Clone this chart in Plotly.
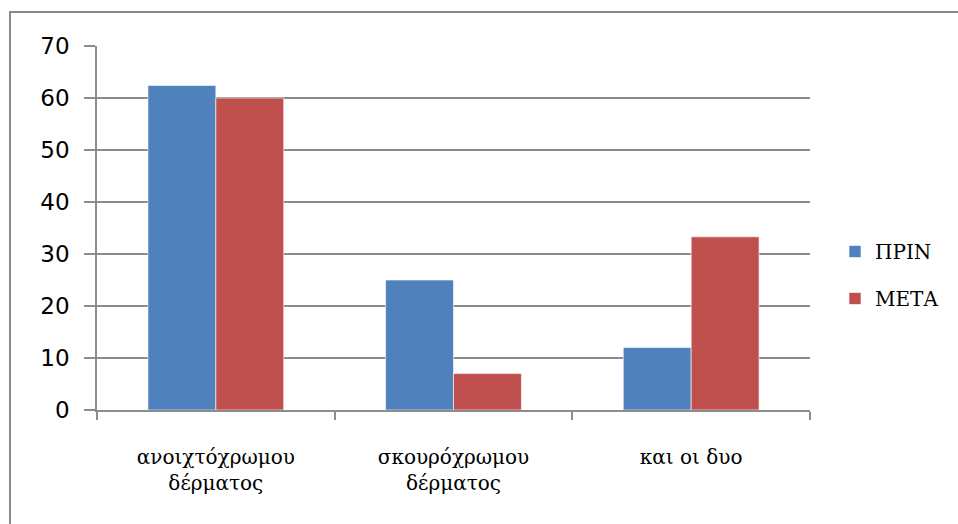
import plotly.graph_objects as go

# Survey results: skin-tone preference before and after
categories = ["ανοιχτόχρωμου<br>δέρματος", "σκουρόχρωμου<br>δέρματος", "και οι δυο"]
prin = [62.4, 25.0, 12.0]
meta = [60.0, 7.0, 33.3]
series_names = ["ΠΡΙΝ", "ΜΕΤΑ"]
y_ticks = [0, 10, 20, 30, 40, 50, 60, 70]

BLUE = "#4F81BD"
RED = "#C0504D"
GRID = "#8C8C8C"
SERIF = "DejaVu Serif, serif"

W, H = 958, 524
L, R, T, B = 97, 148, 46, 114
pw, ph = W - L - R, H - T - B

fig = go.Figure()
for name, vals, col in [(series_names[0], prin, BLUE), (series_names[1], meta, RED)]:
    fig.add_trace(go.Bar(
        x=categories, y=vals, name=name, legendgroup=name,
        marker=dict(color=col, line=dict(color="rgba(255,255,255,0.6)", width=1)),
    ))

def px_x(p):
    return (p - L) / pw

def px_y(p):
    return (H - B - p) / ph

# outer chart frame (left and top edges visible)
fig.add_shape(type="rect", xref="paper", yref="paper",
              x0=px_x(10), x1=px_x(W + 20), y0=px_y(H + 20), y1=px_y(12),
              line=dict(color="#8A8A8A", width=2), fillcolor="rgba(0,0,0,0)", layer="below")

fig.update_layout(
    width=W, height=H,
    margin=dict(l=L, r=R, t=T, b=B, autoexpand=False),
    paper_bgcolor="white", plot_bgcolor="white",
    barmode="group", bargap=0.4286, bargroupgap=0,
    showlegend=True,
    legend=dict(x=px_x(835), xanchor="left", y=px_y(232), yanchor="top",
                font=dict(family=SERIF, size=20, color="#000"),
                traceorder="grouped", tracegroupgap=18,
                itemwidth=30, bgcolor="rgba(0,0,0,0)"),
    xaxis=dict(
        type="category", showline=True, linecolor=GRID, linewidth=1.5,
        ticks="outside", tickson="boundaries", ticklen=8, tickcolor=GRID, tickwidth=1.5,
        tickfont=dict(family=SERIF, size=20, color="#000"),
        ticklabelstandoff=28, showgrid=False, automargin=False,
    ),
    yaxis=dict(
        range=[0, 70], tickvals=y_ticks, showline=True, linecolor=GRID, linewidth=1.5,
        ticks="outside", ticklen=11, tickcolor=GRID, tickwidth=1.5,
        showgrid=True, gridcolor=GRID, gridwidth=1.5, zeroline=False,
        tickfont=dict(family="DejaVu Sans", size=23, color="#000"),
        ticklabelstandoff=10, automargin=False,
    ),
)

fig.write_html("out.html")
